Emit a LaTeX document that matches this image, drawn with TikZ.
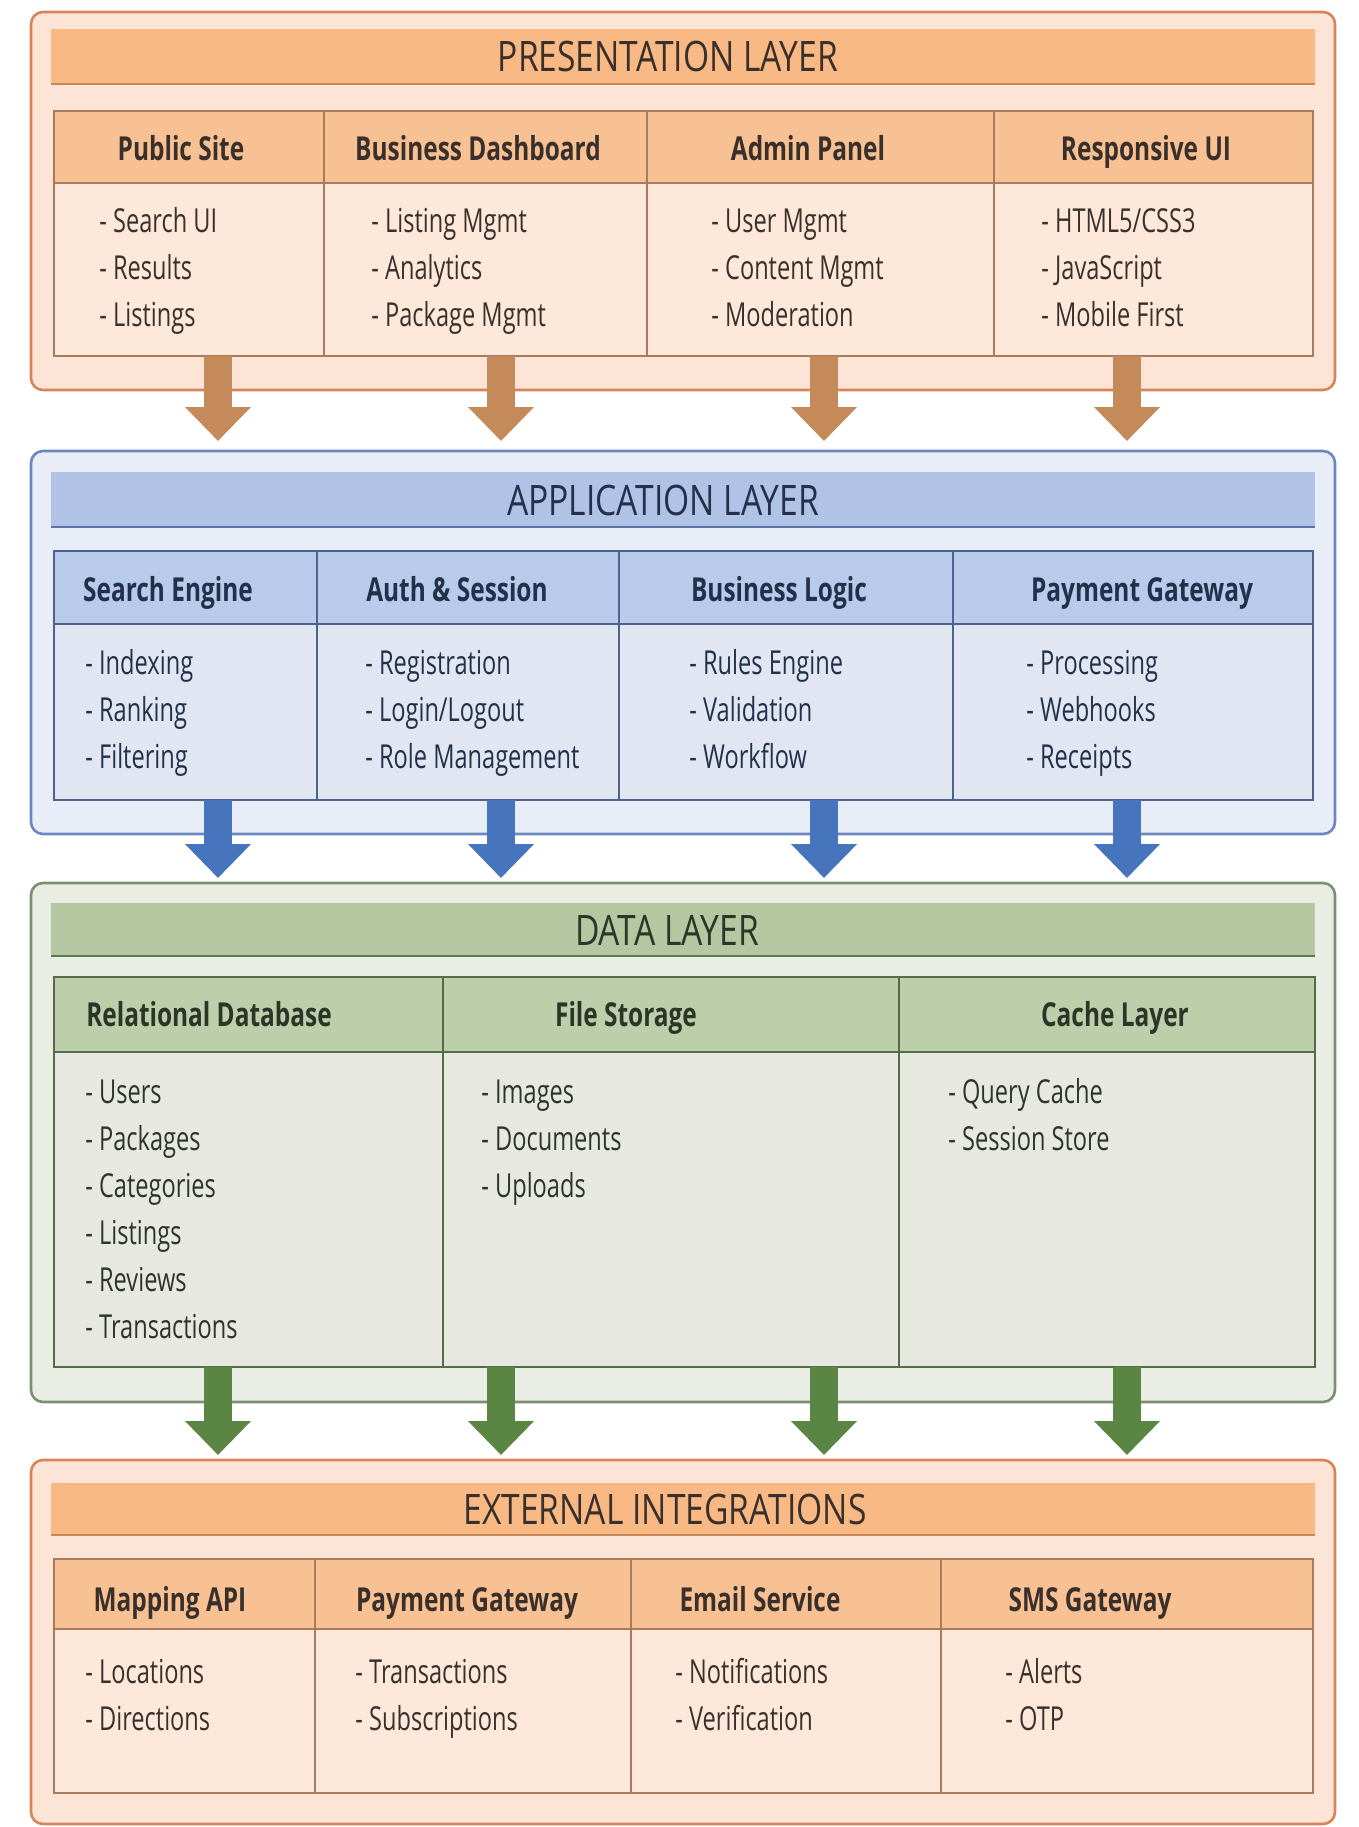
\documentclass[tikz,border=0pt]{standalone}
\usepackage{fontspec}
\setmainfont{Open Sans}
\newfontfamily\itemfont[FakeStretch=0.715]{Open Sans}
\newfontfamily\boldfont[FakeStretch=0.74]{Open Sans}
\newfontfamily\layfont[FakeStretch=0.80]{Open Sans}
\usetikzlibrary{arrows.meta}
% orange
\definecolor{oOut}{HTML}{FCE5D6}
\definecolor{oOutLine}{HTML}{D7845A}
\definecolor{oBand}{HTML}{F9B985}
\definecolor{oBandLine}{HTML}{C9875A}
\definecolor{oHead}{HTML}{F8C193}
\definecolor{oBody}{HTML}{FDE8DA}
\definecolor{oLine}{HTML}{A87A5E}
\definecolor{oArrow}{HTML}{C48A5A}
\definecolor{oText}{HTML}{3A302B}
% blue
\definecolor{bOut}{HTML}{E8EDF7}
\definecolor{bOutLine}{HTML}{6B87BD}
\definecolor{bBand}{HTML}{B0C3E6}
\definecolor{bBandLine}{HTML}{5B74A8}
\definecolor{bHead}{HTML}{B9CBEA}
\definecolor{bBody}{HTML}{E1E6F2}
\definecolor{bLine}{HTML}{4E6290}
\definecolor{bArrow}{HTML}{4675BD}
\definecolor{bText}{HTML}{23304A}
% green
\definecolor{gOut}{HTML}{E9EDE3}
\definecolor{gOutLine}{HTML}{7A9070}
\definecolor{gBand}{HTML}{B4C7A1}
\definecolor{gBandLine}{HTML}{5E7A50}
\definecolor{gHead}{HTML}{BCCEAA}
\definecolor{gBody}{HTML}{E7E8E0}
\definecolor{gLine}{HTML}{556B4A}
\definecolor{gArrow}{HTML}{5B8542}
\definecolor{gText}{HTML}{2C3528}
\newcommand\colitems[5]{%
  \foreach \t [count=\i] in {#5}
    \node[itemtxt,text=#1] (#2-\i) at (#3,{#4+(\i-1)*47}) {- \t};
}
\begin{document}
\begin{tikzpicture}[x=0.5pt,y=-0.5pt,
  itemtxt/.style={anchor=base west,inner sep=0pt,font=\itemfont\fontsize{16.5}{20}\selectfont},
  coltxt/.style={anchor=base,inner sep=0pt,font=\boldfont\bfseries\fontsize{16.5}{20}\selectfont},
  laytxt/.style={anchor=base,inner sep=0pt,font=\layfont\fontsize{21}{24}\selectfont},
  outerbox/.style={rounded corners=6pt,line width=1.3pt},
  tabline/.style={line width=1pt},
  flow/.style={line width=14pt,-{Triangle[width=32pt,length=17pt]}}
]
\useasboundingbox (0,0) rectangle (1359,1827);
\fill[white] (0,0) rectangle (1359,1827);

% ================= PRESENTATION LAYER =================
\draw[outerbox,draw=oOutLine,fill=oOut] (31,12) rectangle (1335,390);
\fill[oBand] (51,29) rectangle (1315,84);
\draw[oBandLine,line width=1.2pt] (51,84) -- (1315,84);
\node[laytxt,text=oText] (pres) at (668,71) {PRESENTATION LAYER};
\fill[oHead] (54,111) rectangle (1313,183);
\fill[oBody] (54,183) rectangle (1313,356);
\draw[tabline,oLine] (54,111) rectangle (1313,356) (54,183) -- (1313,183)
  (324,111) -- (324,356) (647,111) -- (647,356) (994,111) -- (994,356);
\node[coltxt,text=oText] (p1) at (181,160) {Public Site};
\node[coltxt,text=oText] (p2) at (478,160) {Business Dashboard};
\node[coltxt,text=oText] (p3) at (808,160) {Admin Panel};
\node[coltxt,text=oText] (p4) at (1146,160) {Responsive UI};
\colitems{oText}{pi1}{99}{232}{Search UI,Results,Listings}
\colitems{oText}{pi2}{371}{232}{Listing Mgmt,Analytics,Package Mgmt}
\colitems{oText}{pi3}{711}{232}{User Mgmt,Content Mgmt,Moderation}
\colitems{oText}{pi4}{1041}{232}{HTML5/CSS3,JavaScript,Mobile First}

% ================= APPLICATION LAYER =================
\draw[outerbox,draw=bOutLine,fill=bOut] (31,451) rectangle (1335,834);
\fill[bBand] (51,472) rectangle (1315,527);
\draw[bBandLine,line width=1.2pt] (51,527) -- (1315,527);
\node[laytxt,text=bText] (app) at (663,515) {APPLICATION LAYER};
\fill[bHead] (54,551) rectangle (1313,624);
\fill[bBody] (54,624) rectangle (1313,800);
\draw[tabline,bLine] (54,551) rectangle (1313,800) (54,624) -- (1313,624)
  (317,551) -- (317,800) (619,551) -- (619,800) (953,551) -- (953,800);
\node[coltxt,text=bText] (a1) at (168,601) {Search Engine};
\node[coltxt,text=bText] (a2) at (457,601) {Auth \& Session};
\node[coltxt,text=bText] (a3) at (779,601) {Business Logic};
\node[coltxt,text=bText] (a4) at (1142,601) {Payment Gateway};
\colitems{bText}{ai1}{85}{674}{Indexing,Ranking,Filtering}
\colitems{bText}{ai2}{365}{674}{Registration,Login/Logout,Role Management}
\colitems{bText}{ai3}{689}{674}{Rules Engine,Validation,Workflow}
\colitems{bText}{ai4}{1026}{674}{Processing,Webhooks,Receipts}

% ================= DATA LAYER =================
\draw[outerbox,draw=gOutLine,fill=gOut] (31,883) rectangle (1335,1402);
\fill[gBand] (51,903) rectangle (1315,956);
\draw[gBandLine,line width=1.2pt] (51,956) -- (1315,956);
\node[laytxt,text=gText] (data) at (667,945) {DATA LAYER};
\fill[gHead] (54,977) rectangle (1315,1052);
\fill[gBody] (54,1052) rectangle (1315,1367);
\draw[tabline,gLine] (54,977) rectangle (1315,1367) (54,1052) -- (1315,1052)
  (443,977) -- (443,1367) (899,977) -- (899,1367);
\node[coltxt,text=gText] (d1) at (209,1026) {Relational Database};
\node[coltxt,text=gText] (d2) at (626,1026) {File Storage};
\node[coltxt,text=gText] (d3) at (1115,1026) {Cache Layer};
\colitems{gText}{di1}{85}{1103}{Users,Packages,Categories,Listings,Reviews,Transactions}
\colitems{gText}{di2}{481}{1103}{Images,Documents,Uploads}
\colitems{gText}{di3}{948}{1103}{Query Cache,Session Store}

% ================= EXTERNAL INTEGRATIONS =================
\draw[outerbox,draw=oOutLine,fill=oOut] (31,1460) rectangle (1335,1824);
\fill[oBand] (51,1483) rectangle (1315,1535);
\draw[oBandLine,line width=1.2pt] (51,1535) -- (1315,1535);
\node[laytxt,text=oText] (ext) at (665,1524) {EXTERNAL INTEGRATIONS};
\fill[oHead] (54,1559) rectangle (1313,1629);
\fill[oBody] (54,1629) rectangle (1313,1793);
\draw[tabline,oLine] (54,1559) rectangle (1313,1793) (54,1629) -- (1313,1629)
  (315,1559) -- (315,1793) (631,1559) -- (631,1793) (941,1559) -- (941,1793);
\node[coltxt,text=oText] (e1) at (170,1611) {Mapping API};
\node[coltxt,text=oText] (e2) at (467,1611) {Payment Gateway};
\node[coltxt,text=oText] (e3) at (760,1611) {Email Service};
\node[coltxt,text=oText] (e4) at (1090,1611) {SMS Gateway};
\colitems{oText}{ei1}{85}{1683}{Locations,Directions}
\colitems{oText}{ei2}{355}{1683}{Transactions,Subscriptions}
\colitems{oText}{ei3}{675}{1683}{Notifications,Verification}
\colitems{oText}{ei4}{1005}{1683}{Alerts,OTP}

% ================= FLOW ARROWS =================
\foreach \k/\x in {1/218,2/501,3/824,4/1127} {
  \coordinate (ps\k) at (\x,356);  \coordinate (pt\k) at (\x,441);
  \coordinate (as\k) at (\x,800);  \coordinate (at\k) at (\x,878);
  \coordinate (ds\k) at (\x,1367); \coordinate (dt\k) at (\x,1455);
  \draw[flow,oArrow] (ps\k) -- (pt\k);
  \draw[flow,bArrow] (as\k) -- (at\k);
  \draw[flow,gArrow] (ds\k) -- (dt\k);
}
\end{tikzpicture}
\end{document}
